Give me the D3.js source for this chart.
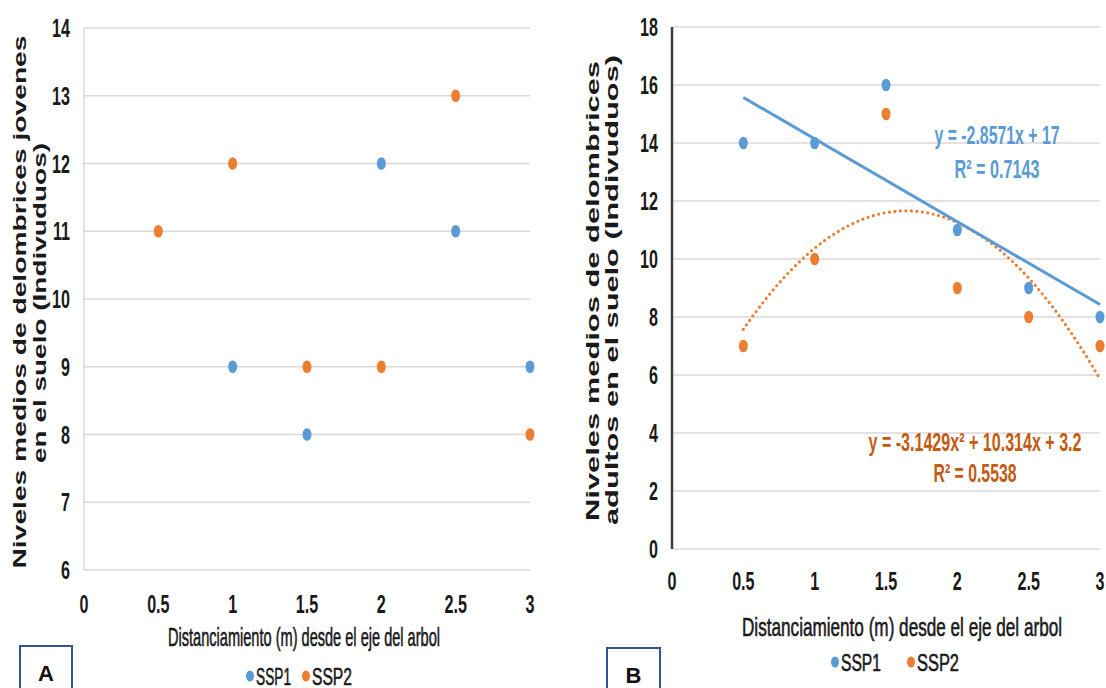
<!DOCTYPE html>
<html>
<head>
<meta charset="utf-8">
<script src="https://cdn.jsdelivr.net/npm/d3@7"></script>
<style>
  body { margin: 0; background: #fff; }
  svg { display: block; }
  .narrow { font-family: "Liberation Sans Narrow", "Arial Narrow", "Liberation Sans", Arial, sans-serif; }
  .ylab { font-family: "Liberation Sans", Arial, sans-serif; font-weight: bold; }
</style>
</head>
<body>
<svg id="chart" width="1106" height="688"></svg>
<script>
// shared x positions (m from trunk)
const xTicks = [0, 0.5, 1, 1.5, 2, 2.5, 3];

// panel A: young earthworms
const youngTicks = [6, 7, 8, 9, 10, 11, 12, 13, 14];
const youngSsp1X = [1, 1.5, 2, 2.5, 3];
const youngSsp1 = [9, 8, 12, 11, 9];
const youngSsp2X = [0.5, 1, 1.5, 2, 2.5, 3];
const youngSsp2 = [11, 12, 9, 9, 13, 8];

// panel B: adult earthworms
const adultTicks = [0, 2, 4, 6, 8, 10, 12, 14, 16, 18];
const adultX = [0.5, 1, 1.5, 2, 2.5, 3];
const adultSsp1 = [14, 14, 16, 11, 9, 8];
const adultSsp2 = [7, 10, 15, 9, 8, 7];

// trendline coefficients as printed on the chart (c0 + c1 x + c2 x^2)
const linCoef = [17, -2.8571];
const quadCoef = [3.2, 10.314, -3.1429];

const blue = '#5b9bd5', orange = '#ed7d31';
const svg = d3.select('#chart');

// condensed text: draw at (x,y) and squeeze horizontally
function narrowText(g, x, y, txt, opts) {
    return g.append('g')
        .attr('transform', `translate(${x},${y}) scale(${opts.sx || 0.62},1)`)
        .append('text')
        .attr('class', 'narrow')
        .attr('text-anchor', opts.anchor || 'middle')
        .attr('font-size', opts.size || 26)
        .attr('font-weight', 'bold')
        .attr('fill', '#1a1a1a')
        .text(txt);
}

function panel(o) {
    const g = svg.append('g');
    const x = d3.scaleLinear().domain([0, 3]).range(o.xr);
    const y = d3.scaleLinear().domain(d3.extent(o.yTicks)).range(o.yr);

    // grid
    g.selectAll('.grid').data(o.yTicks).enter().append('line')
        .attr('x1', o.xr[0]).attr('x2', o.xr[1])
        .attr('y1', d => y(d)).attr('y2', d => y(d))
        .attr('stroke', '#d9d9d9').attr('stroke-width', 1.3);

    // y axis line
    g.append('line')
        .attr('x1', o.xr[0]).attr('x2', o.xr[0])
        .attr('y1', o.yr[0]).attr('y2', o.yr[1])
        .attr('stroke', o.axisColor).attr('stroke-width', o.axisWidth);

    // tick labels
    o.yTicks.forEach(d => narrowText(g, o.xr[0] - 14, y(d) + 9, d, { anchor: 'end' }));
    xTicks.forEach(d => narrowText(g, x(d), o.xLabY, d, {}));

    // x title
    g.append('text').attr('class', 'narrow')
        .attr('x', o.xTitle[0]).attr('y', o.xTitle[1])
        .attr('text-anchor', 'middle')
        .attr('font-size', o.xTitle[3]).attr('fill', '#1a1a1a')
        .attr('stroke', '#1a1a1a').attr('stroke-width', 0.6)
        .attr('textLength', o.xTitle[2]).attr('lengthAdjust', 'spacingAndGlyphs')
        .text('Distanciamiento (m) desde el eje del arbol');

    // y title, two rotated lines
    o.yTitle.forEach(t => {
        g.append('text').attr('class', 'ylab')
            .attr('transform', `translate(${t.cx},${t.cy}) rotate(-90)`)
            .attr('text-anchor', 'middle').attr('dominant-baseline', 'central')
            .attr('font-size', 18).attr('fill', '#1a1a1a')
            .attr('textLength', t.len).attr('lengthAdjust', 'spacingAndGlyphs')
            .text(t.text);
    });

    // legend
    o.legend.forEach(l => {
        g.append('ellipse').attr('cx', l.x).attr('cy', o.legY).attr('rx', 4).attr('ry', 5.5).attr('fill', l.c);
        g.append('text').attr('class', 'narrow')
            .attr('x', l.x + 6).attr('y', o.legY + 8.5)
            .attr('font-size', 24).attr('fill', '#1a1a1a')
            .attr('stroke', '#1a1a1a').attr('stroke-width', 0.6)
            .attr('textLength', l.w).attr('lengthAdjust', 'spacingAndGlyphs')
            .text(l.t);
    });

    // panel letter box
    g.append('rect').attr('x', o.box[0]).attr('y', o.box[1]).attr('width', o.box[2]).attr('height', 60)
        .attr('fill', 'none').attr('stroke', '#2f5597').attr('stroke-width', 2);
    g.append('text').attr('class', 'ylab')
        .attr('x', o.box[0] + o.box[2] / 2).attr('y', o.box[1] + 35)
        .attr('text-anchor', 'middle').attr('font-size', 22).attr('fill', '#111')
        .text(o.letter);

    return { g, x, y };
}

function dots(p, xs, ys, color) {
    p.g.selectAll(null).data(xs.map((d, i) => [d, ys[i]])).enter().append('ellipse')
        .attr('cx', d => p.x(d[0])).attr('cy', d => p.y(d[1]))
        .attr('rx', 4.5).attr('ry', 6.3).attr('fill', color);
}

// ---- panel A
const pa = panel({
    xr: [84, 530], yr: [570, 28], yTicks: youngTicks,
    axisColor: '#d9d9d9', axisWidth: 1.5, xLabY: 613,
    xTitle: [304, 646, 272, 25],
    yTitle: [
        { text: 'Niveles medios de delombrices jovenes', cx: 20, cy: 302, len: 533 },
        { text: 'en el suelo (Indivuduos)', cx: 40, cy: 303, len: 320 }
    ],
    legY: 676, legend: [{ x: 250, c: blue, t: 'SSP1', w: 35 }, { x: 306, c: orange, t: 'SSP2', w: 40 }],
    box: [20, 646, 52], letter: 'A'
});
dots(pa, youngSsp1X, youngSsp1, blue);
dots(pa, youngSsp2X, youngSsp2, orange);

// ---- panel B
const pb = panel({
    xr: [672, 1100], yr: [549, 27], yTicks: adultTicks,
    axisColor: '#404040', axisWidth: 2.5, xLabY: 590,
    xTitle: [902, 636, 320, 26],
    yTitle: [
        { text: 'Niveles medios de delombrices', cx: 593, cy: 291, len: 460 },
        { text: 'adultos  en el suelo (Indivuduos)', cx: 612, cy: 290, len: 470 }
    ],
    legY: 662, legend: [{ x: 835, c: blue, t: 'SSP1', w: 40 }, { x: 911, c: orange, t: 'SSP2', w: 42 }],
    box: [607, 648, 53], letter: 'B'
});

const xs = d3.range(0.5, 3.0001, 0.025);
pb.g.append('path')
    .datum(xs)
    .attr('fill', 'none').attr('stroke', orange).attr('stroke-width', 3.2)
    .attr('stroke-dasharray', '0 5.5').attr('stroke-linecap', 'round')
    .attr('d', d3.line()
        .x(d => pb.x(d))
        .y(d => pb.y(quadCoef[0] + quadCoef[1] * d + quadCoef[2] * d * d)));

pb.g.append('path')
    .datum([0.5, 3])
    .attr('fill', 'none').attr('stroke', blue).attr('stroke-width', 3)
    .attr('d', d3.line()
        .x(d => pb.x(d))
        .y(d => pb.y(linCoef[0] + linCoef[1] * d)));

dots(pb, adultX, adultSsp1, blue);
dots(pb, adultX, adultSsp2, orange);

// trendline equations
const eqs = [
    { t: 'y = -2.8571x + 17', x: 997, y: 144, w: 125, c: blue },
    { t: 'R² = 0.7143', x: 997, y: 178, w: 85, c: blue },
    { t: 'y = -3.1429x² + 10.314x + 3.2', x: 975, y: 451, w: 213, c: '#c55a11' },
    { t: 'R² = 0.5538', x: 975, y: 482, w: 83, c: '#c55a11' }
];
pb.g.selectAll(null).data(eqs).enter().append('text')
    .attr('class', 'narrow')
    .attr('x', d => d.x).attr('y', d => d.y)
    .attr('text-anchor', 'middle')
    .attr('font-size', 25).attr('font-weight', 'bold')
    .attr('fill', d => d.c)
    .attr('textLength', d => d.w).attr('lengthAdjust', 'spacingAndGlyphs')
    .text(d => d.t);
</script>
</body>
</html>
